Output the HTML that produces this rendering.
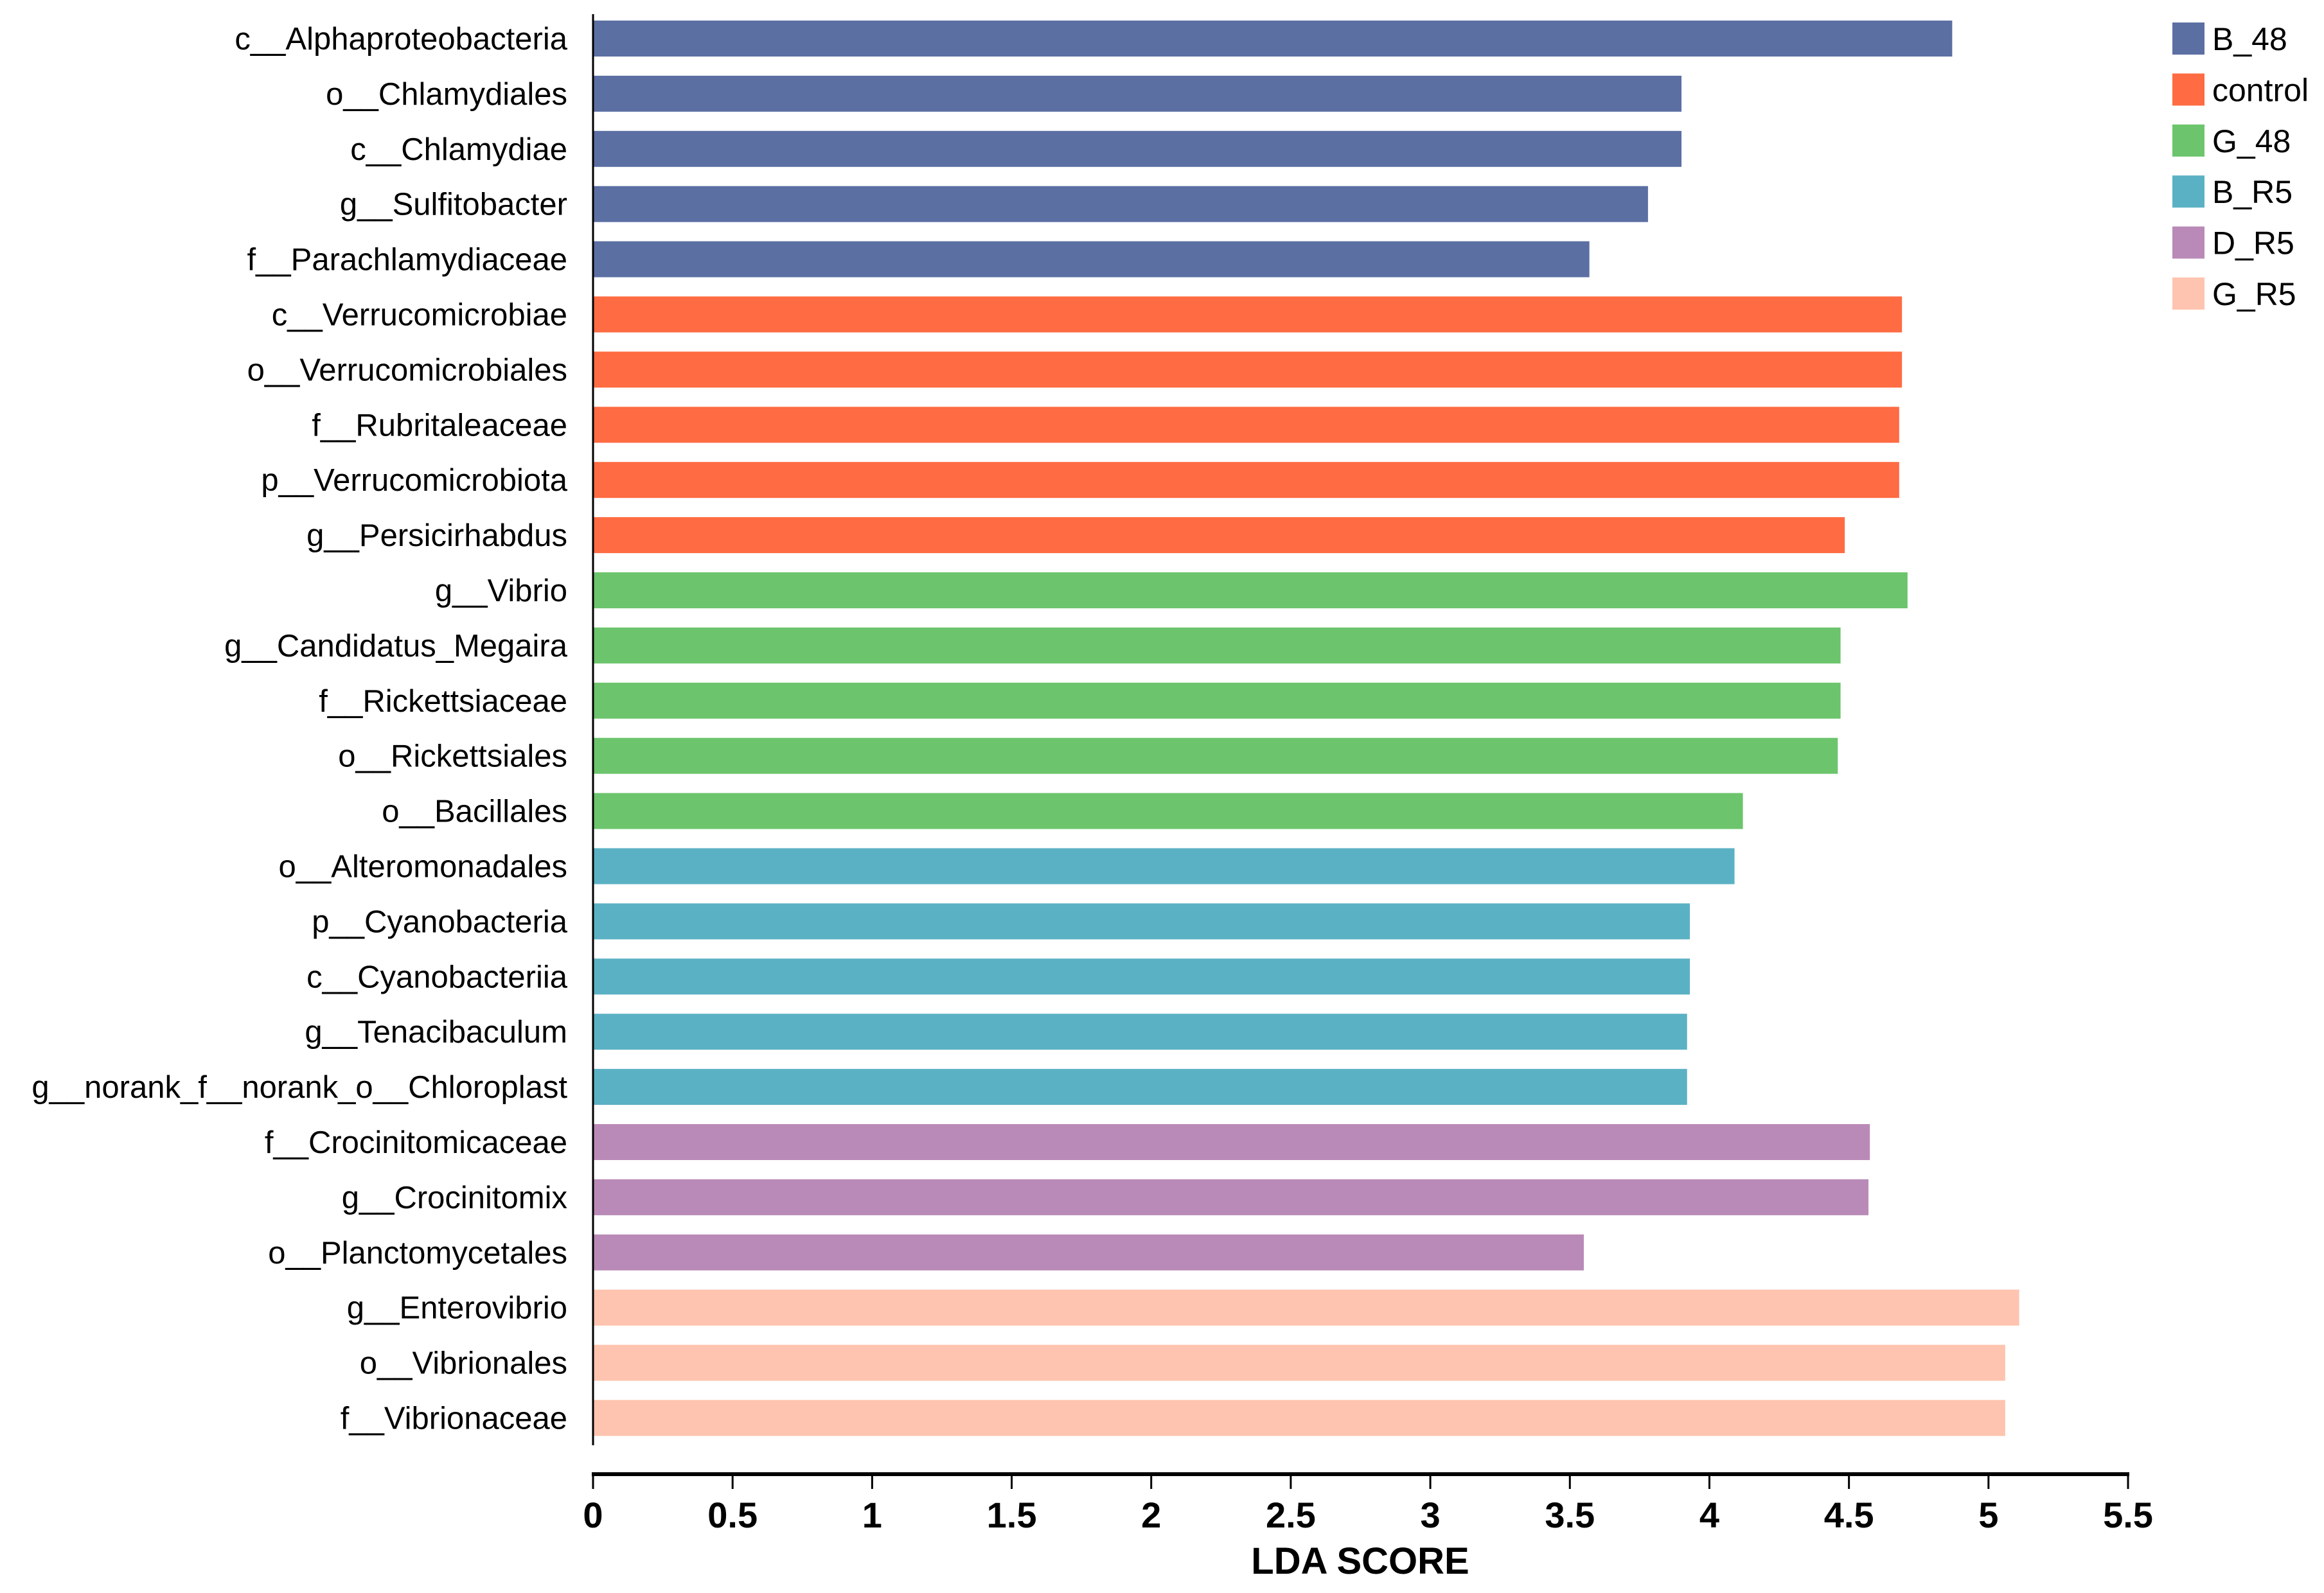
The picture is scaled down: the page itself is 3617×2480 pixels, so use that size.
<!DOCTYPE html>
<html><head><meta charset="utf-8"><style>
body{margin:0;background:#fff;}
svg{display:block;font-family:"Liberation Sans",Arial,sans-serif;}
</style></head><body>
<svg id="chart" width="3617" height="2480" viewBox="0 0 3617 2480" xmlns="http://www.w3.org/2000/svg"></svg>
<script>
const categories=["c__Alphaproteobacteria","o__Chlamydiales","c__Chlamydiae","g__Sulfitobacter","f__Parachlamydiaceae","c__Verrucomicrobiae","o__Verrucomicrobiales","f__Rubritaleaceae","p__Verrucomicrobiota","g__Persicirhabdus","g__Vibrio","g__Candidatus_Megaira","f__Rickettsiaceae","o__Rickettsiales","o__Bacillales","o__Alteromonadales","p__Cyanobacteria","c__Cyanobacteriia","g__Tenacibaculum","g__norank_f__norank_o__Chloroplast","f__Crocinitomicaceae","g__Crocinitomix","o__Planctomycetales","g__Enterovibrio","o__Vibrionales","f__Vibrionaceae"];
const values=[4.87,3.90,3.90,3.78,3.57,4.69,4.69,4.68,4.68,4.485,4.71,4.47,4.47,4.46,4.12,4.09,3.93,3.93,3.92,3.92,4.575,4.57,3.55,5.11,5.06,5.06];
const groupOf=["B_48","B_48","B_48","B_48","B_48","control","control","control","control","control","G_48","G_48","G_48","G_48","G_48","B_R5","B_R5","B_R5","B_R5","B_R5","D_R5","D_R5","D_R5","G_R5","G_R5","G_R5"];
const groups=["B_48","control","G_48","B_R5","D_R5","G_R5"];
const colors=["#5b6fa3","#ff6b42","#6cc56c","#5bb1c4","#b98ab7","#fec4af"];
const ticks=[0,0.5,1,1.5,2,2.5,3,3.5,4,4.5,5,5.5];

const svg=document.getElementById('chart');
const NS='http://www.w3.org/2000/svg';
const X0=923,X1=3312,XMAX=5.5;
const x=v=>X0+(X1-X0)*v/XMAX;
const Y0=60,STEP=85.9,BH=56;
const y=i=>Y0+i*STEP;
function mk(tag,attrs){const e=document.createElementNS(NS,tag);for(const k in attrs)e.setAttribute(k,attrs[k]);svg.appendChild(e);return e;}

categories.forEach((c,i)=>{
  const r=mk('rect',{x:x(0),y:y(i)-BH/2,width:x(values[i])-x(0),height:BH,fill:colors[groups.indexOf(groupOf[i])]});
  
  
  const t=mk('text',{x:883,y:y(i)+17,'text-anchor':'end','font-size':49,fill:'#000'});
  t.textContent=c;
  
  
});
const ya=mk('line',{x1:X0,y1:22,x2:X0,y2:2250,stroke:'#000','stroke-width':3});


const xa=mk('line',{x1:X0-2,y1:2295,x2:X1+2,y2:2295,stroke:'#000','stroke-width':6});


ticks.forEach(v=>{
  const l=mk('line',{x1:x(v),y1:2295,x2:x(v),y2:2318,stroke:'#000','stroke-width':3});
  
  
  const t=mk('text',{x:x(v),y:2378,'text-anchor':'middle','font-size':56,'font-weight':'bold',fill:'#000'});
  t.textContent=String(v);
  
  
});
const xt=mk('text',{x:2117,y:2450,'text-anchor':'middle','font-size':58,'font-weight':'bold',fill:'#000'});
xt.textContent='LDA SCORE';


groups.forEach((g,i)=>{
  const ly=60+i*79.4;
  const r=mk('rect',{x:3381,y:ly-25,width:50,height:50,fill:colors[i]});
  
  
  const t=mk('text',{x:3443,y:ly+18,'font-size':50,fill:'#000'});
  t.textContent=g;
  
  
});
</script>
</body></html>
